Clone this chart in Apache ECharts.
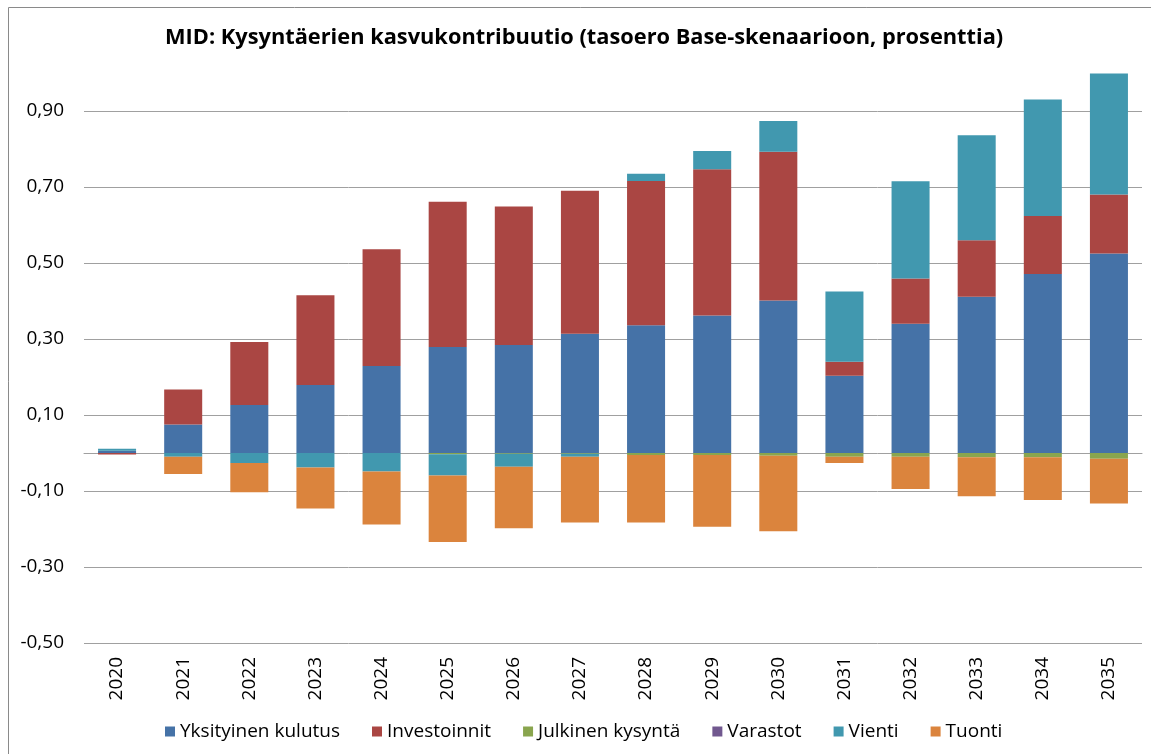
<!DOCTYPE html>
<html>
<head>
<meta charset="utf-8">
<script src="https://cdn.jsdelivr.net/npm/echarts@6/dist/echarts.min.js"></script>
<style>
  html, body { margin: 0; padding: 0; background: #fff; }
  #chart { width: 1151px; height: 754px; }
</style>
</head>
<body>
<div id="chart"></div>
<script>
const years = ['2020', '2021', '2022', '2023', '2024', '2025', '2026', '2027',
  '2028', '2029', '2030', '2031', '2032', '2033', '2034', '2035'];

const kulutus = [0.006, 0.075, 0.126, 0.179, 0.229, 0.279, 0.284, 0.314,
  0.336, 0.362, 0.401, 0.203, 0.340, 0.411, 0.471, 0.525];
const investoinnit = [-0.004, 0.092, 0.166, 0.236, 0.307, 0.382, 0.365, 0.376,
  0.380, 0.385, 0.392, 0.037, 0.119, 0.149, 0.153, 0.155];
const julkinen = [0, 0, 0, 0, 0, -0.003, -0.002, -0.002,
  -0.005, -0.005, -0.007, -0.010, -0.010, -0.011, -0.011, -0.015];
const varastot = [0, 0, 0, 0, 0, 0, 0, 0, 0, 0, 0, 0, 0, 0, 0, 0];
const vienti = [0.005, -0.010, -0.026, -0.038, -0.049, -0.056, -0.034, -0.008,
  0.019, 0.048, 0.081, 0.185, 0.256, 0.276, 0.306, 0.319];
const tuonti = [0, -0.045, -0.077, -0.108, -0.139, -0.175, -0.162, -0.173,
  -0.178, -0.189, -0.199, -0.016, -0.085, -0.103, -0.113, -0.118];

const seriesNames = ['Yksityinen kulutus', 'Investoinnit', 'Julkinen kysyntä', 'Varastot', 'Vienti', 'Tuonti'];
const seriesData = [kulutus, investoinnit, julkinen, varastot, vienti, tuonti];
const colors = ['#4572A7', '#AA4643', '#89A54E', '#71588F', '#4198AF', '#DB843D'];

const font = '"Open Sans", "Liberation Sans", sans-serif';

let chartDom = document.getElementById('chart');
let myChart = echarts.init(chartDom);

let option = {
  animation: false,
  color: colors,
  title: {
    text: 'MID: Kysyntäerien kasvukontribuutio (tasoero Base-skenaarioon, prosenttia)',
    left: 160,
    top: 22,
    textStyle: { fontFamily: font, fontSize: 21.8, fontWeight: 'bold', color: '#000' }
  },
  graphic: [{
    type: 'rect',
    left: 6, top: 5,
    shape: { width: 1200, height: 800 },
    style: { fill: 'none', stroke: '#8a8a8a', lineWidth: 1 },
    silent: true
  }],
  legend: {
    data: seriesNames,
    bottom: 8,
    left: 160,
    itemWidth: 10,
    itemHeight: 10,
    itemGap: 32,
    icon: 'rect',
    textStyle: { fontFamily: font, fontSize: 19, color: '#000' }
  },
  grid: {
    left: 84,
    right: 9,
    top: 73,
    bottom: 111
  },
  xAxis: [
    {
      type: 'category',
      data: years,
      position: 'bottom',
      axisLine: { show: false, onZero: false },
      axisTick: { show: false },
      axisLabel: {
        rotate: 90,
        margin: 14,
        fontFamily: font,
        fontSize: 19,
        color: '#000'
      }
    },
    {
      type: 'category',
      data: years,
      position: 'bottom',
      axisLine: { show: true, onZero: true, lineStyle: { color: '#a0a0a0', width: 1 } },
      axisTick: { show: false },
      axisLabel: { show: false }
    }
  ],
  yAxis: {
    type: 'value',
    min: -0.5,
    max: 1.0,
    interval: 0.2,
    axisLine: { show: false },
    axisTick: { show: false },
    splitLine: { show: true, showMaxLine: false, lineStyle: { color: '#a0a0a0', width: 1 } },
    axisLabel: {
      margin: 20,
      showMaxLabel: false,
      fontFamily: font,
      fontSize: 19,
      color: '#000',
      formatter: function (v) {
        if (Math.abs(v - 1.0) < 1e-9) return '';
        return v.toFixed(2).replace('.', ',');
      }
    }
  },
  series: seriesNames.map(function (name, i) {
    return {
      name: name,
      type: 'bar',
      stack: 'total',
      barWidth: '57.5%',
      data: seriesData[i],
      itemStyle: { color: colors[i] }
    };
  })
};
option && myChart.setOption(option);
</script>
</body>
</html>
